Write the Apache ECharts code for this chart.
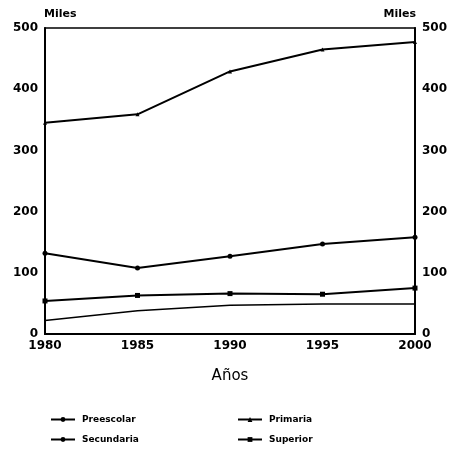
<!DOCTYPE html>
<html>
<head>
<meta charset="utf-8">
<script src="https://cdn.jsdelivr.net/npm/echarts@6/dist/echarts.min.js"></script>
<style>html,body{margin:0;padding:0;background:#fff}#c{width:453px;height:451px}</style>
</head>
<body>
<div id="c"></div>
<script>
var years = ['1980', '1985', '1990', '1995', '2000'];
var preescolar = [22, 38, 47, 49, 49];
var primaria = [345, 359, 429, 465, 477];
var secundaria = [132, 108, 127, 147, 158];
var superior = [54, 63, 66, 65, 75];

var chart = echarts.init(document.getElementById('c'));
var lab = {color: '#000', fontFamily: 'DejaVu Sans', fontWeight: 'bold', fontSize: 12};
function yAxis(pos) {
  return {
    type: 'value', position: pos, min: 0, max: 500, interval: 100,
    name: 'Miles',
    nameLocation: 'end', nameGap: 8,
    nameTextStyle: {color: '#000', fontFamily: 'DejaVu Sans', fontWeight: 'bold', fontSize: 11, align: pos === 'left' ? 'left' : 'right', padding: pos === 'left' ? [0,0,0,-1] : [0,-1,0,0]},
    axisLine: {show: true, lineStyle: {color: '#000', width: 2}},
    axisTick: {show: false},
    splitLine: {show: false},
    axisLabel: Object.assign({margin: 7}, lab)
  };
}
function ser(name, data, symbol, size, width) {
  return {
    name: name, type: 'line', data: data, symbol: symbol, symbolSize: size,
    showSymbol: symbol !== 'none',
    lineStyle: {color: '#000', width: width},
    itemStyle: {color: '#000'},
    animation: false
  };
}
var legText = {color: '#000', fontFamily: 'DejaVu Sans', fontWeight: 'bold', fontSize: 9, padding: [0,0,0,2]};
chart.setOption({
  animation: false,
  grid: {left: 45, right: 38, top: 28, bottom: 117, show: true, borderColor: '#000', borderWidth: 1.5},
  xAxis: {
    type: 'category', data: years, boundaryGap: false,
    name: 'Años', nameLocation: 'middle', nameGap: 35,
    nameTextStyle: {color: '#000', fontFamily: 'DejaVu Sans', fontSize: 15},
    axisLine: {lineStyle: {color: '#000', width: 2}},
    axisTick: {show: false},
    axisLabel: Object.assign({margin: 6}, lab)
  },
  yAxis: [yAxis('left'), yAxis('right')],
  legend: [
    {data: ['Preescolar', 'Secundaria'], orient: 'vertical', left: 45, top: 410, itemWidth: 24, itemHeight: 6, itemGap: 11, textStyle: legText},
    {data: ['Primaria', 'Superior'], orient: 'vertical', left: 232, top: 410, itemWidth: 24, itemHeight: 6, itemGap: 11, textStyle: legText}
  ],
  series: [
    ser('Preescolar', preescolar, 'none', 0, 1.5),
    ser('Primaria', primaria, 'triangle', 4, 2),
    ser('Secundaria', secundaria, 'circle', 5, 2),
    ser('Superior', superior, 'rect', 5, 2)
  ]
});
</script>
</body>
</html>
